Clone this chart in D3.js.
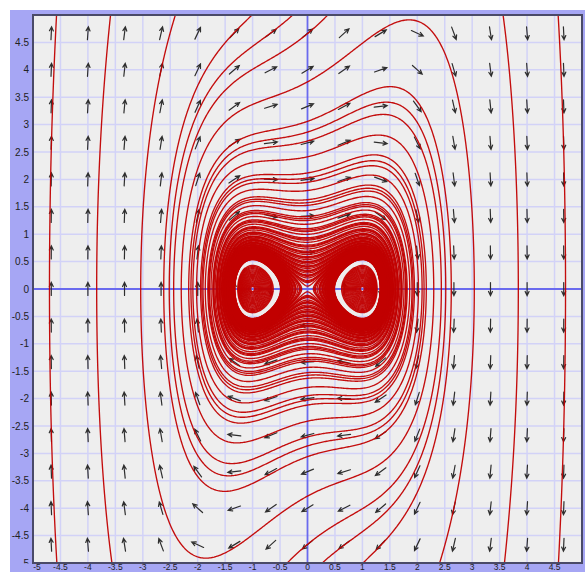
<!DOCTYPE html>
<html>
<head>
<meta charset="utf-8">
<script src="https://cdn.jsdelivr.net/npm/d3@7"></script>
<style>
  html, body { margin: 0; padding: 0; background: #ffffff; }
  svg { display: block; }
</style>
</head>
<body>
<div id="chart"></div>
<script>
// Phase portrait of  x' = y,  y' = x - x^3 + A*y^3
const A = 0.038;

// Axis ticks
const xTickLabels = [-5, -4.5, -4, -3.5, -3, -2.5, -2, -1.5, -1, -0.5, 0, 0.5, 1, 1.5, 2, 2.5, 3, 3.5, 4, 4.5];
const yTickLabels = [4.5, 4, 3.5, 3, 2.5, 2, 1.5, 1, 0.5, 0, -0.5, -1, -1.5, -2, -2.5, -3, -3.5, -4, -4.5, -5];
const gridValues = [-4.5, -4, -3.5, -3, -2.5, -2, -1.5, -1, -0.5, 0.5, 1, 1.5, 2, 2.5, 3, 3.5, 4, 4.5];

// Direction-field sample points
const arrowXs = [-4.667, -4, -3.333, -2.667, -2, -1.333, -0.667, 0, 0.667, 1.333, 2, 2.667, 3.333, 4, 4.667];
const arrowYs = [4.667, 4, 3.333, 2.667, 2, 1.333, 0.667, 0, -0.667, -1.333, -2, -2.667, -3.333, -4, -4.667];

// Initial conditions of the traced solutions
const outerSeeds = [
  [-4.70, 0], [-3.84, 0], [4.70, 0], [3.84, 0],
  [0, 3.78], [0, -3.78],
  [-1.03, 4.98], [-0.29, 4.98], [0.35, 4.98],
  [1.03, -4.98], [0.29, -4.98], [-0.35, -4.98]
];
// solutions started on the vertical through each centre (x = -1 and x = 1)
const wellSeedYs = [0.05, 0.07, 0.09, 0.11, 0.13, 0.15, 0.17, 0.19, 0.21, 0.23, 0.25, 0.27,
  0.29, 0.31, 0.33, 0.35, 0.37, 0.39, 0.41, 0.43];
const wellCentres = [-1, 1];

const OUTER_T = 400;        // time span traced each way from an outer seed
const OUTER_FLOOR = -0.107; // backward tracing ends at this energy level
const WELL_T = 4.5;

const W = 585, H = 572;
const plot = { left: 33, right: 582, top: 15, bottom: 563 };

const x = d3.scaleLinear().domain([-5, 5]).range([plot.left, plot.right]);
const y = d3.scaleLinear().domain([-5, 5]).range([plot.bottom, plot.top]);

const svg = d3.select("#chart").append("svg").attr("width", W).attr("height", H);

// frame
svg.append("rect").attr("x", 10).attr("y", 10).attr("width", W).attr("height", H)
  .attr("fill", "#a6a6f4");
svg.append("rect").attr("x", plot.left).attr("y", plot.top)
  .attr("width", plot.right - plot.left).attr("height", plot.bottom - plot.top)
  .attr("fill", "#eeeeee");

const defs = svg.append("defs");
defs.append("clipPath").attr("id", "plotClip").append("rect")
  .attr("x", plot.left).attr("y", plot.top)
  .attr("width", plot.right - plot.left).attr("height", plot.bottom - plot.top);
defs.append("clipPath").attr("id", "labelClip").append("rect")
  .attr("x", 0).attr("y", 0).attr("width", plot.left).attr("height", plot.bottom + 0.5);

const g = svg.append("g").attr("clip-path", "url(#plotClip)");

// grid
g.append("g").selectAll("line.gx").data(gridValues).join("line")
  .attr("x1", d => x(d)).attr("x2", d => x(d)).attr("y1", plot.top).attr("y2", plot.bottom)
  .attr("stroke", "#d2d2f7").attr("stroke-width", 1.5);
g.append("g").selectAll("line.gy").data(gridValues).join("line")
  .attr("y1", d => y(d)).attr("y2", d => y(d)).attr("x1", plot.left).attr("x2", plot.right)
  .attr("stroke", "#d2d2f7").attr("stroke-width", 1.5);

// axes
g.append("line").attr("x1", x(0)).attr("x2", x(0)).attr("y1", plot.top).attr("y2", plot.bottom)
  .attr("stroke", "#6a6aee").attr("stroke-width", 1.8);
g.append("line").attr("y1", y(0)).attr("y2", y(0)).attr("x1", plot.left).attr("x2", plot.right)
  .attr("stroke", "#6a6aee").attr("stroke-width", 1.8);

function velocity(px, py) {
  return [py, px - px * px * px + A * py * py * py];
}
function energy(px, py) {
  return py * py / 2 - px * px / 2 + px * px * px * px / 4;
}

// direction field
const ARROW_LEN = 13, HEAD = 4.5;
const arrowData = [];
arrowYs.forEach(ay => arrowXs.forEach(ax => {
  const v = velocity(ax, ay);
  if (Math.hypot(v[0], v[1]) > 1e-9) arrowData.push({ ax, ay, ang: Math.atan2(-v[1], v[0]) });
}));
const arrows = g.append("g").attr("stroke", "#2e2e2e").attr("stroke-width", 1.2)
  .attr("fill", "none").attr("stroke-linecap", "round");
arrows.selectAll("path").data(arrowData).join("path")
  .attr("d", d => {
    const cx = x(d.ax), cy = y(d.ay), c = Math.cos(d.ang), s = Math.sin(d.ang);
    const x0 = cx - c * ARROW_LEN / 2, y0 = cy - s * ARROW_LEN / 2;
    const x1 = cx + c * ARROW_LEN / 2, y1 = cy + s * ARROW_LEN / 2;
    const a1 = d.ang + Math.PI - 0.45, a2 = d.ang + Math.PI + 0.45;
    return `M${x0},${y0}L${x1},${y1}M${x1 + HEAD * Math.cos(a1)},${y1 + HEAD * Math.sin(a1)}L${x1},${y1}L${x1 + HEAD * Math.cos(a2)},${y1 + HEAD * Math.sin(a2)}`;
  });

// RK4 integration of one solution in one time direction
function trace(x0, y0, dir, tMax, floor) {
  const pts = [[x0, y0]];
  let px = x0, py = y0, t = 0;
  let lx = x(px), ly = y(py);
  while (t < tMax) {
    const v = velocity(px, py);
    const sp = Math.hypot(v[0], v[1]);
    if (sp < 1e-7) break;
    const h = Math.min(0.01, 0.01 / sp) * dir;
    const k1 = v;
    const k2 = velocity(px + h / 2 * k1[0], py + h / 2 * k1[1]);
    const k3 = velocity(px + h / 2 * k2[0], py + h / 2 * k2[1]);
    const k4 = velocity(px + h * k3[0], py + h * k3[1]);
    px += h / 6 * (k1[0] + 2 * k2[0] + 2 * k3[0] + k4[0]);
    py += h / 6 * (k1[1] + 2 * k2[1] + 2 * k3[1] + k4[1]);
    t += Math.abs(h);
    const nx = x(px), ny = y(py);
    if (Math.abs(px) > 5.3 || Math.abs(py) > 5.3) { pts.push([px, py]); break; }
    if (floor !== undefined && energy(px, py) < floor) break;
    if (Math.hypot(nx - lx, ny - ly) >= 1) { pts.push([px, py]); lx = nx; ly = ny; }
  }
  pts.push([px, py]);
  return pts;
}

function solution(seed, T, floor) {
  const back = trace(seed[0], seed[1], -1, T, floor).reverse();
  const fwd = trace(seed[0], seed[1], 1, T);
  return back.concat(fwd.slice(1));
}

const wellSeeds = [];
wellCentres.forEach(cx => wellSeedYs.forEach(sy => wellSeeds.push([cx, sy])));

const curves = outerSeeds.map(s => solution(s, OUTER_T, OUTER_FLOOR))
  .concat(wellSeeds.map(s => solution(s, WELL_T)));

const line = d3.line().x(d => x(d[0])).y(d => y(d[1]));
g.append("g").attr("fill", "none").attr("stroke", "#c10000").attr("stroke-width", 1.35)
  .attr("stroke-opacity", 0.95).attr("stroke-linejoin", "round")
  .selectAll("path").data(curves).join("path").attr("d", line);

// plot border
svg.append("rect").attr("x", plot.left).attr("y", plot.top)
  .attr("width", plot.right - plot.left).attr("height", plot.bottom - plot.top)
  .attr("fill", "none").attr("stroke", "#4a4a68").attr("stroke-width", 2);

// tick labels
svg.append("g").attr("clip-path", "url(#labelClip)")
  .selectAll("text").data(yTickLabels).join("text")
  .attr("x", 29).attr("y", d => y(d)).attr("dy", "0.35em")
  .attr("text-anchor", "end")
  .attr("font-family", "'Liberation Sans', Arial, sans-serif").attr("font-size", 10)
  .attr("fill", "#222").text(d => d);
svg.append("g").selectAll("text").data(xTickLabels).join("text")
  .attr("x", d => x(d) + (d === -5 ? 4 : 0)).attr("y", 570)
  .attr("text-anchor", "middle")
  .attr("font-family", "'Liberation Sans', Arial, sans-serif").attr("font-size", 8.5)
  .attr("fill", "#222").text(d => d);
</script>
</body>
</html>
